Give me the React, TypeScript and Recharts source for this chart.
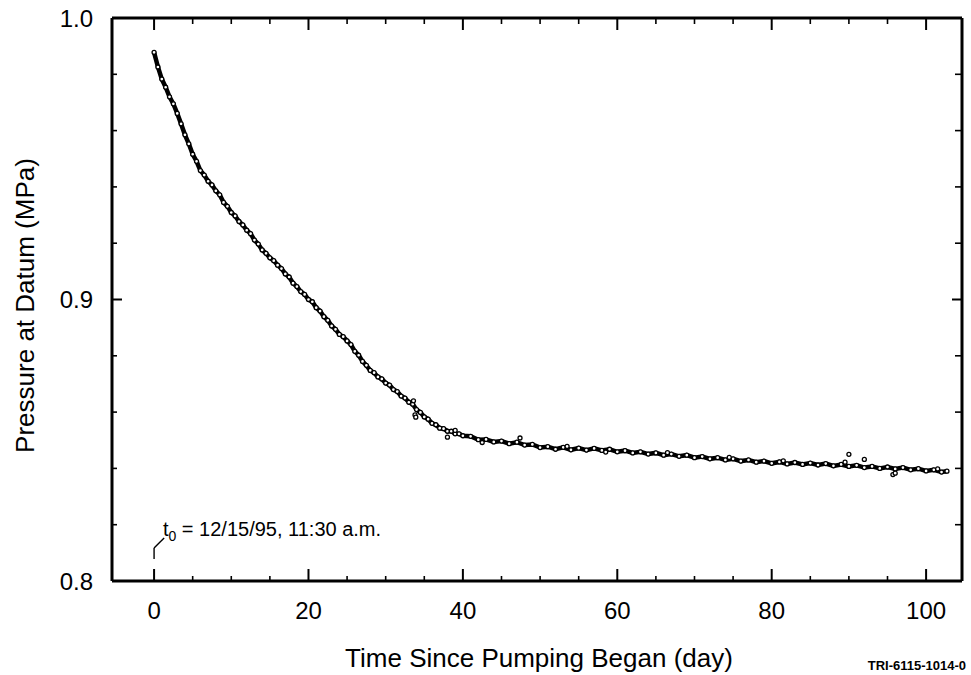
import {
  ComposedChart,
  Line,
  Scatter,
  XAxis,
  YAxis,
  ReferenceLine,
  ReferenceDot,
} from "recharts";

if (typeof document !== "undefined") {
  document.body.style.margin = "0";
}

const FONT = '"Liberation Sans", Arial, Helvetica, sans-serif';

// half-day readings during the drawdown
const earlyDays = [
  0, 0.5, 1, 1.5, 2, 2.5, 3, 3.5, 4, 4.5, 5, 5.5, 6, 6.5, 7, 7.5, 8, 8.5, 9, 9.5,
  10, 10.5, 11, 11.5, 12, 12.5, 13, 13.5, 14, 14.5, 15, 15.5, 16, 16.5, 17, 17.5,
  18, 18.5, 19, 19.5, 20, 20.5, 21, 21.5, 22, 22.5, 23, 23.5, 24, 24.5, 25, 25.5,
  26, 26.5, 27, 27.5, 28, 28.5, 29, 29.5, 30, 30.5, 31, 31.5, 32, 32.5, 33, 33.5,
  34, 34.5, 35, 35.5, 36, 36.5, 37, 37.5, 38, 38.5, 39, 39.5, 40,
];
const earlyPressure = [
  0.9878, 0.9826, 0.9783, 0.9754, 0.972, 0.9695, 0.9661, 0.9624, 0.9585, 0.9553,
  0.9516, 0.9491, 0.9458, 0.9442, 0.942, 0.9407, 0.9386, 0.9372, 0.9345, 0.9331,
  0.9309, 0.9297, 0.9277, 0.9265, 0.9246, 0.9234, 0.9211, 0.9197, 0.9176, 0.9164,
  0.9148, 0.9138, 0.9122, 0.911, 0.9091, 0.908, 0.9058, 0.9046, 0.9028, 0.9018,
  0.9, 0.8992, 0.8971, 0.8959, 0.8939, 0.8926, 0.8906, 0.8894, 0.8876, 0.8868,
  0.8853, 0.884, 0.8816, 0.8802, 0.878, 0.8766, 0.8748, 0.874, 0.8725, 0.8718,
  0.8703, 0.8696, 0.868, 0.8673, 0.8657, 0.865, 0.8635, 0.8628, 0.8609, 0.8599,
  0.8583, 0.8575, 0.856, 0.8555, 0.8543, 0.8541, 0.8532, 0.8532, 0.8523, 0.8523,
  0.8516,
];

// daily readings on the flat tail
const tailDays = [
  41, 42, 43, 44, 45, 46, 47, 48, 49, 50, 51, 52, 53, 54, 55, 56, 57, 58, 59, 60,
  61, 62, 63, 64, 65, 66, 67, 68, 69, 70, 71, 72, 73, 74, 75, 76, 77, 78, 79, 80,
  81, 82, 83, 84, 85, 86, 87, 88, 89, 90, 91, 92, 93, 94, 95, 96, 97, 98, 99, 100,
  101, 102, 102.7,
];
const tailPressure = [
  0.8514, 0.8502, 0.8503, 0.8494, 0.8497, 0.8488, 0.8493, 0.8483, 0.8485, 0.8474,
  0.8477, 0.8468, 0.8475, 0.8466, 0.8472, 0.8465, 0.8471, 0.8464, 0.8468, 0.8459,
  0.8463, 0.8455, 0.8459, 0.8451, 0.8455, 0.8447, 0.8451, 0.8443, 0.8447, 0.8438,
  0.8442, 0.8434, 0.8438, 0.843, 0.8434, 0.8426, 0.843, 0.8422, 0.8426, 0.8418,
  0.8423, 0.8416, 0.8421, 0.8414, 0.8419, 0.8412, 0.8417, 0.8409, 0.8414, 0.8407,
  0.8411, 0.8403, 0.8407, 0.84, 0.8405, 0.8398, 0.8403, 0.8395, 0.8399, 0.8391,
  0.8395, 0.8387, 0.839,
];

// stray readings off the main band
const strayDays = [
  33.6, 33.8, 33.9, 38.0, 39.0, 42.5, 47.4, 53.5, 58.5, 66.5, 74.5, 81.5, 89.5,
  90.0, 92.0, 95.7, 96.0, 101.5,
];
const strayPressure = [
  0.864, 0.859, 0.8582, 0.8511, 0.8535, 0.8492, 0.8508, 0.8478, 0.8458, 0.8456,
  0.8439, 0.8427, 0.8422, 0.845, 0.8432, 0.8378, 0.8383, 0.8398,
];

const xMajor = [0, 20, 40, 60, 80, 100];
const xMinor = [5, 10, 15, 25, 30, 35, 45, 50, 55, 65, 70, 75, 85, 90, 95];
const yMajor = [0.8, 0.9, 1.0];
const yMinor = [0.82, 0.84, 0.86, 0.88, 0.92, 0.94, 0.96, 0.98];

const X_DOMAIN: [number, number] = [-5.45, 104.65];
const Y_DOMAIN: [number, number] = [0.8, 1.0];

const series = [...earlyDays, ...tailDays].map((d, i) => ({
  day: d,
  p: i < earlyDays.length ? earlyPressure[i] : tailPressure[i - earlyDays.length],
}));
const strays = strayDays.map((d, i) => ({ day: d, p: strayPressure[i] }));

function OpenCircle(props: any) {
  const { cx, cy } = props;
  if (cx == null || cy == null) return null;
  return <circle cx={cx} cy={cy} r={2} fill="#fff" stroke="#000" strokeWidth={1.3} />;
}

function XTitle(props: any) {
  const vb = props.viewBox;
  return (
    <text
      x={vb.x + vb.width / 2 + 2}
      y={vb.y + 86}
      textAnchor="middle"
      fontFamily={FONT}
      fontSize={26}
      fill="#000"
    >
      Time Since Pumping Began (day)
    </text>
  );
}

function YTitle(props: any) {
  const vb = props.viewBox;
  const cx = vb.x + 25;
  const cy = vb.y + vb.height / 2 + 6;
  return (
    <text
      x={cx}
      y={cy}
      transform={`rotate(-90 ${cx} ${cy})`}
      textAnchor="middle"
      dominantBaseline="central"
      fontFamily={FONT}
      fontSize={26}
      fill="#000"
    >
      Pressure at Datum (MPa)
    </text>
  );
}

function StartNote(props: any) {
  const vb = props.viewBox;
  return (
    <text x={vb.x} y={vb.y} fontFamily={FONT} fontSize={20} fill="#000">
      <tspan>t</tspan>
      <tspan dy={5} fontSize={14}>0</tspan>
      <tspan dy={-5}> = 12/15/95, 11:30 a.m.</tspan>
    </text>
  );
}

export default function App() {
  const xLen = (px: number) => px / 7.72;
  const yLen = (px: number) => px / 2815;
  return (
    <div style={{ position: "relative", width: 971, height: 675, overflow: "hidden", background: "#fff" }}>
      <ComposedChart
        width={971}
        height={675}
        data={series}
        margin={{ top: 18, right: 9, bottom: 0, left: 0 }}
      >
        <XAxis
          type="number"
          dataKey="day"
          domain={X_DOMAIN}
          ticks={xMajor}
          allowDataOverflow
          height={94}
          tickLine={false}
          tickSize={0}
          tickMargin={21}
          axisLine={{ stroke: "#000", strokeWidth: 3 }}
          tick={{ fill: "#000", fontSize: 24, fontFamily: FONT }}
          label={{ content: XTitle }}
        />
        <YAxis
          type="number"
          dataKey="p"
          domain={Y_DOMAIN}
          ticks={yMajor}
          allowDataOverflow
          width={112}
          tickLine={false}
          tickSize={0}
          tickMargin={19}
          axisLine={{ stroke: "#000", strokeWidth: 3 }}
          tick={{ fill: "#000", fontSize: 24, fontFamily: FONT }}
          tickFormatter={(v: number) => v.toFixed(1)}
          label={{ content: YTitle }}
        />

        {/* frame: top and right */}
        <ReferenceLine y={1.0} stroke="#000" strokeWidth={3} ifOverflow="visible" />
        <ReferenceLine x={X_DOMAIN[1]} stroke="#000" strokeWidth={3} ifOverflow="visible" />

        {/* inward ticks, bottom and top */}
        {xMajor.map((t) => (
          <ReferenceLine
            key={`xb${t}`}
            segment={[{ x: t, y: 0.8 }, { x: t, y: 0.8 + yLen(12) }]}
            stroke="#000"
            strokeWidth={2}
            ifOverflow="visible"
          />
        ))}
        {xMinor.map((t) => (
          <ReferenceLine
            key={`xbm${t}`}
            segment={[{ x: t, y: 0.8 }, { x: t, y: 0.8 + yLen(5) }]}
            stroke="#000"
            strokeWidth={1.6}
            ifOverflow="visible"
          />
        ))}
        {xMajor.map((t) => (
          <ReferenceLine
            key={`xt${t}`}
            segment={[{ x: t, y: 1.0 }, { x: t, y: 1.0 - yLen(12) }]}
            stroke="#000"
            strokeWidth={2}
            ifOverflow="visible"
          />
        ))}
        {xMinor.map((t) => (
          <ReferenceLine
            key={`xtm${t}`}
            segment={[{ x: t, y: 1.0 }, { x: t, y: 1.0 - yLen(6) }]}
            stroke="#000"
            strokeWidth={1.6}
            ifOverflow="visible"
          />
        ))}

        {/* inward ticks, left and right */}
        {yMajor.map((t) => (
          <ReferenceLine
            key={`yl${t}`}
            segment={[{ x: X_DOMAIN[0], y: t }, { x: X_DOMAIN[0] + xLen(10), y: t }]}
            stroke="#000"
            strokeWidth={2}
            ifOverflow="visible"
          />
        ))}
        {yMinor.map((t) => (
          <ReferenceLine
            key={`ylm${t}`}
            segment={[{ x: X_DOMAIN[0], y: t }, { x: X_DOMAIN[0] + xLen(5), y: t }]}
            stroke="#000"
            strokeWidth={1.6}
            ifOverflow="visible"
          />
        ))}
        {yMajor.map((t) => (
          <ReferenceLine
            key={`yr${t}`}
            segment={[{ x: X_DOMAIN[1], y: t }, { x: X_DOMAIN[1] - xLen(10), y: t }]}
            stroke="#000"
            strokeWidth={2}
            ifOverflow="visible"
          />
        ))}
        {yMinor.map((t) => (
          <ReferenceLine
            key={`yrm${t}`}
            segment={[{ x: X_DOMAIN[1], y: t }, { x: X_DOMAIN[1] - xLen(7), y: t }]}
            stroke="#000"
            strokeWidth={1.6}
            ifOverflow="visible"
          />
        ))}

        {/* t0 leader and note */}
        <ReferenceLine
          segment={[{ x: 0, y: 0.8078 }, { x: 0, y: 0.8117 }]}
          stroke="#000"
          strokeWidth={1.4}
          ifOverflow="visible"
        />
        <ReferenceLine
          segment={[{ x: 0, y: 0.8117 }, { x: 1.3, y: 0.8153 }]}
          stroke="#000"
          strokeWidth={1.4}
          ifOverflow="visible"
        />
        <ReferenceDot x={1.15} y={0.816} r={0} stroke="none" label={{ content: StartNote }} />

        <Line
          type="linear"
          dataKey="p"
          stroke="#000"
          strokeWidth={4.5}
          dot={<OpenCircle />}
          activeDot={false}
          isAnimationActive={false}
        />
        <Scatter data={strays} dataKey="p" shape={<OpenCircle />} isAnimationActive={false} />
      </ComposedChart>
      <div
        style={{
          position: "absolute",
          right: 5,
          bottom: 2,
          fontFamily: FONT,
          fontSize: 13,
          fontWeight: "bold",
          color: "#000",
        }}
      >
        TRI-6115-1014-0
      </div>
    </div>
  );
}
